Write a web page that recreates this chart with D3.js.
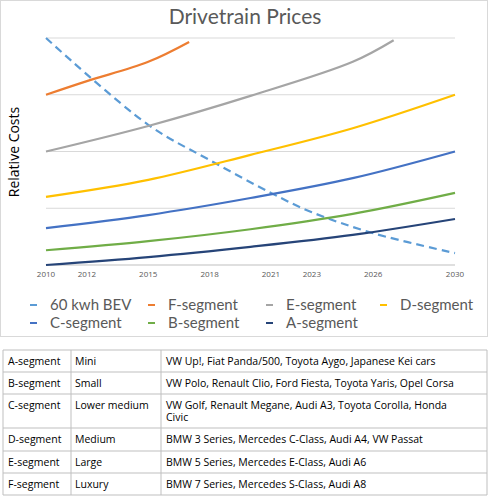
<!DOCTYPE html>
<html><head><meta charset="utf-8">
<script src="https://cdn.jsdelivr.net/npm/d3@7"></script>
<style>
body{margin:0;background:#fff;font-family:"Open Sans",sans-serif}
</style></head>
<body><div id="chart"></div>
<script>
const tickYears= [2010, 2012, 2015, 2018, 2021, 2023, 2026, 2030];
const bev= [[2010,4.0],[2015,2.47],[2018,1.85],[2021,1.27],[2023,0.93],[2026,0.56],[2030,0.21]];
const fSeg= [[2010,3.0],[2012,3.24],[2015,3.58],[2017,3.93]];
const eSeg= [[2010,2.0],[2015,2.45],[2020,2.98],[2025,3.58],[2027,3.96]];
const dSeg= [[2010,1.2],[2015,1.5],[2020,1.94],[2025,2.41],[2030,3.0]];
const cSeg= [[2010,0.65],[2015,0.88],[2020,1.18],[2025,1.53],[2030,2.0]];
const bSeg= [[2010,0.26],[2015,0.42],[2020,0.63],[2025,0.9],[2030,1.27]];
const aSeg= [[2010,0.0],[2015,0.14],[2020,0.32],[2025,0.53],[2030,0.81]];
const seriesNames= ['60 kwh BEV','F-segment','E-segment','D-segment','C-segment','B-segment','A-segment'];
const seriesColors= ['#5b9bd5','#ed7d31','#a5a5a5','#ffc000','#4472c4','#70ad47','#264478'];
const seriesData= [bev, fSeg, eSeg, dSeg, cSeg, bSeg, aSeg];
const tableRows= [
  ['A-segment','Mini',['VW Up!, Fiat Panda/500, Toyota Aygo, Japanese Kei cars']],
  ['B-segment','Small',['VW Polo, Renault Clio, Ford Fiesta, Toyota Yaris, Opel Corsa']],
  ['C-segment','Lower medium',['VW Golf, Renault Megane, Audi A3, Toyota Corolla, Honda','Civic']],
  ['D-segment','Medium',['BMW 3 Series, Mercedes C-Class, Audi A4, VW Passat']],
  ['E-segment','Large',['BMW 5 Series, Mercedes E-Class, Audi A6']],
  ['F-segment','Luxury',['BMW 7 Series, Mercedes S-Class, Audi A8']],
];

const svg= d3.select('#chart').append('svg').attr('width',490).attr('height',500);
svg.append('rect').attr('x',0.5).attr('y',0.5).attr('width',487).attr('height',336)
  .attr('fill','#fff').attr('stroke','#d9d9d9');

const x= d3.scaleLinear().domain([2010,2030]).range([46,455]);
const y= d3.scaleLinear().domain([0,4]).range([265,38]);

svg.append('text').attr('x',245).attr('y',24).attr('text-anchor','middle')
  .attr('font-family','Lato').attr('font-size',21).attr('fill','#595959').text('Drivetrain Prices');
svg.append('text').attr('transform','translate(19,152) rotate(-90)').attr('text-anchor','middle')
  .attr('font-size',14).attr('fill','#000').text('Relative Costs');

svg.append('g').selectAll('line').data(d3.range(1,5)).join('line')
  .attr('x1',x(2010)).attr('x2',x(2030)).attr('y1',d=>y(d)).attr('y2',d=>y(d))
  .attr('stroke','#d9d9d9');
svg.append('line').attr('x1',x(2010)).attr('x2',x(2030)).attr('y1',y(0)).attr('y2',y(0)).attr('stroke','#bfbfbf');

svg.append('g').selectAll('text').data(tickYears).join('text')
  .attr('x',d=>x(d)).attr('y',277).attr('text-anchor','middle')
  .attr('font-size',8).attr('fill','#595959').text(d=>d);

const line= d3.line().x(d=>x(d[0])).y(d=>y(d[1])).curve(d3.curveCatmullRom);
svg.append('g').selectAll('path').data(seriesData).join('path')
  .attr('d',line).attr('fill','none')
  .attr('stroke',(d,i)=>seriesColors[i]).attr('stroke-width',2.2)
  .attr('stroke-dasharray',(d,i)=>i===0?'8,5':null);

const legPos= [[30,310],[148,310],[266,310],[380,310],[30,328],[148,328],[266,328]];
const leg= svg.append('g').selectAll('g').data(seriesNames).join('g')
  .attr('transform',(d,i)=>`translate(${legPos[i][0]},${legPos[i][1]})`);
leg.append('line').attr('x1',0).attr('x2',7).attr('y1',-5).attr('y2',-5)
  .attr('stroke',(d,i)=>seriesColors[i]).attr('stroke-width',2);
leg.append('text').attr('x',20).attr('y',0).attr('font-family','Lato')
  .attr('font-size',15).attr('fill','#595959').text(d=>d);

// table
const colX= [3,71,161,487];
const rowY= [350,372,394,428,451,473,495];
const tb= svg.append('g').attr('font-size',10.5).attr('fill','#000');
rowY.forEach(ry=>tb.append('line').attr('x1',colX[0]).attr('x2',colX[3]).attr('y1',ry).attr('y2',ry).attr('stroke','#bfbfbf'));
colX.forEach(cx=>tb.append('line').attr('x1',cx).attr('x2',cx).attr('y1',rowY[0]).attr('y2',rowY[6]).attr('stroke','#bfbfbf'));
tableRows.forEach((r,i)=>{
  const ty= rowY[i]+15;
  tb.append('text').attr('x',colX[0]+5).attr('y',ty).text(r[0]);
  tb.append('text').attr('x',colX[1]+4).attr('y',ty).text(r[1]);
  r[2].forEach((t,j)=>tb.append('text').attr('x',colX[2]+5).attr('y',ty+j*12).text(t));
});
</script></body></html>
